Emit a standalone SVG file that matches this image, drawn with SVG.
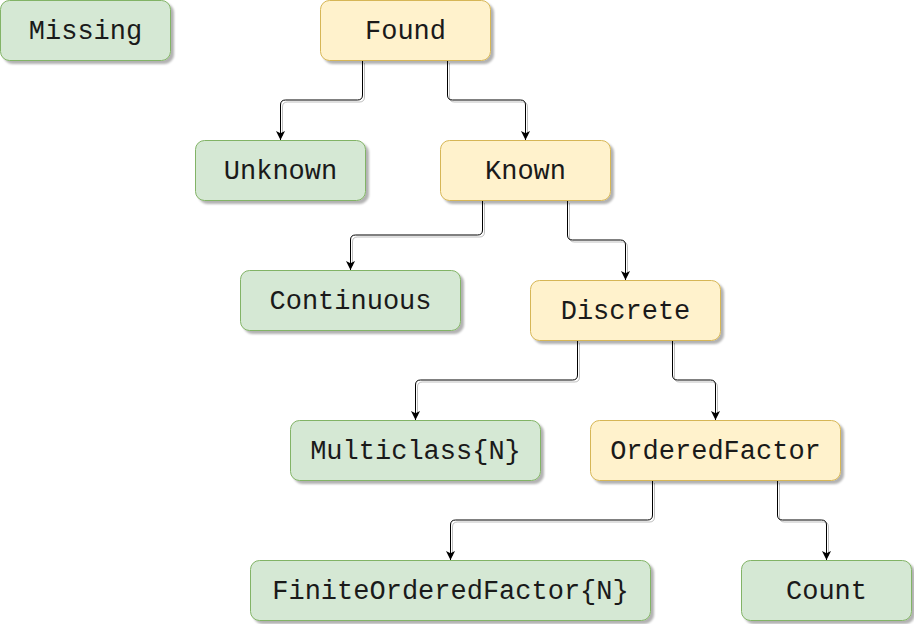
<svg xmlns="http://www.w3.org/2000/svg" width="914" height="624" viewBox="0 0 914 624">
<defs>
<filter id="sh" x="-10%" y="-20%" width="130%" height="150%">
<feDropShadow dx="3" dy="3" stdDeviation="1.2" flood-color="#000" flood-opacity="0.3"/>
</filter>
<marker id="arr" markerWidth="12" markerHeight="12" refX="9" refY="4.5" orient="auto" markerUnits="userSpaceOnUse">
<path d="M0,0 L9,4.5 L0,9 L2.2,4.5 Z" fill="#000"/>
</marker>
</defs>
<style>
.g{fill:#d5e8d4;stroke:#82b366;stroke-width:1}
.y{fill:#fff2cc;stroke:#d6b656;stroke-width:1}
text{font-family:"Liberation Mono","Courier New",monospace;font-size:27px;fill:#1a1a1a;text-anchor:middle}
.c{fill:none;stroke:#000;stroke-width:1}
.cs{fill:none;stroke:#000;stroke-opacity:0.25;stroke-width:1}
</style>
<g id="connectors">
<g transform="translate(2,2)">
<path class="cs" d="M362.5 61 V95 Q362.5 100 357.5 100 H285.5 Q280.5 100 280.5 105 V134"/>
<path class="cs" d="M447.5 61 V95 Q447.5 100 452.5 100 H520.5 Q525.5 100 525.5 105 V134"/>
<path class="cs" d="M482.5 201 V230 Q482.5 235 477.5 235 H355.5 Q350.5 235 350.5 240 V264"/>
<path class="cs" d="M567.5 201 V235 Q567.5 240 572.5 240 H620.5 Q625.5 240 625.5 245 V274"/>
<path class="cs" d="M577.5 341 V375 Q577.5 380 572.5 380 H420.5 Q415.5 380 415.5 385 V414"/>
<path class="cs" d="M672.5 341 V375 Q672.5 380 677.5 380 H710.5 Q715.5 380 715.5 385 V414"/>
<path class="cs" d="M652.5 481 V515 Q652.5 520 647.5 520 H455.5 Q450.5 520 450.5 525 V554"/>
<path class="cs" d="M777.5 481 V515 Q777.5 520 782.5 520 H821.5 Q826.5 520 826.5 525 V554"/>
</g>
<path class="c" marker-end="url(#arr)" d="M362.5 61 V95 Q362.5 100 357.5 100 H285.5 Q280.5 100 280.5 105 V140"/>
<path class="c" marker-end="url(#arr)" d="M447.5 61 V95 Q447.5 100 452.5 100 H520.5 Q525.5 100 525.5 105 V140"/>
<path class="c" marker-end="url(#arr)" d="M482.5 201 V230 Q482.5 235 477.5 235 H355.5 Q350.5 235 350.5 240 V270"/>
<path class="c" marker-end="url(#arr)" d="M567.5 201 V235 Q567.5 240 572.5 240 H620.5 Q625.5 240 625.5 245 V280"/>
<path class="c" marker-end="url(#arr)" d="M577.5 341 V375 Q577.5 380 572.5 380 H420.5 Q415.5 380 415.5 385 V420"/>
<path class="c" marker-end="url(#arr)" d="M672.5 341 V375 Q672.5 380 677.5 380 H710.5 Q715.5 380 715.5 385 V420"/>
<path class="c" marker-end="url(#arr)" d="M652.5 481 V515 Q652.5 520 647.5 520 H455.5 Q450.5 520 450.5 525 V560"/>
<path class="c" marker-end="url(#arr)" d="M777.5 481 V515 Q777.5 520 782.5 520 H821.5 Q826.5 520 826.5 525 V560"/>
</g>
<g id="missing"><rect class="g" filter="url(#sh)" x="0.5" y="0.5" width="170" height="60" rx="9"/><text x="85.5" y="39">Missing</text></g>
<g id="found"><rect class="y" filter="url(#sh)" x="320.5" y="0.5" width="170" height="60" rx="9"/><text x="405.5" y="39">Found</text></g>
<g id="unknown"><rect class="g" filter="url(#sh)" x="195.5" y="140.5" width="170" height="60" rx="9"/><text x="280.5" y="179">Unknown</text></g>
<g id="known"><rect class="y" filter="url(#sh)" x="440.5" y="140.5" width="170" height="60" rx="9"/><text x="525.5" y="179">Known</text></g>
<g id="continuous"><rect class="g" filter="url(#sh)" x="240.5" y="270.5" width="220" height="60" rx="9"/><text x="350.5" y="309">Continuous</text></g>
<g id="discrete"><rect class="y" filter="url(#sh)" x="530.5" y="280.5" width="190" height="60" rx="9"/><text x="625.5" y="319">Discrete</text></g>
<g id="multiclass"><rect class="g" filter="url(#sh)" x="290.5" y="420.5" width="250" height="60" rx="9"/><text x="415.5" y="459">Multiclass{N}</text></g>
<g id="orderedfactor"><rect class="y" filter="url(#sh)" x="590.5" y="420.5" width="250" height="60" rx="9"/><text x="715.5" y="459">OrderedFactor</text></g>
<g id="finiteorderedfactor"><rect class="g" filter="url(#sh)" x="250.5" y="560.5" width="400" height="60" rx="9"/><text x="450.5" y="599">FiniteOrderedFactor{N}</text></g>
<g id="count"><rect class="g" filter="url(#sh)" x="741.5" y="560.5" width="170" height="60" rx="9"/><text x="826.5" y="599">Count</text></g>
</svg>
